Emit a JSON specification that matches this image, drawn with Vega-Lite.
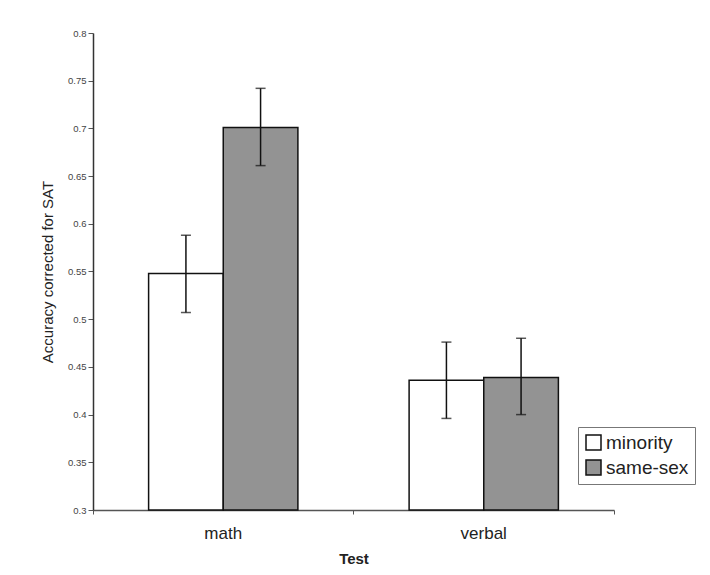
{
  "$schema": "https://vega.github.io/schema/vega-lite/v6.json",
  "width": 521,
  "height": 477,
  "autosize": {"type": "none"},
  "padding": {"left": 93, "top": 33, "right": 96, "bottom": 65},
  "background": "white",
  "config": {"font": "Liberation Sans", "view": {"stroke": null}},
  "data": {
    "values": [
      {"test": "math", "group": "minority", "acc": 0.548, "lo": 0.507, "hi": 0.588},
      {"test": "math", "group": "same-sex", "acc": 0.701, "lo": 0.661, "hi": 0.742},
      {"test": "verbal", "group": "minority", "acc": 0.436, "lo": 0.396, "hi": 0.476},
      {"test": "verbal", "group": "same-sex", "acc": 0.439, "lo": 0.400, "hi": 0.480}
    ]
  },
  "encoding": {
    "x": {
      "field": "test",
      "type": "nominal",
      "scale": {"paddingInner": 0, "paddingOuter": 0},
      "axis": {
        "title": "Test",
        "titleFontSize": 15,
        "titleFontWeight": "bold",
        "titleColor": "#222",
        "titlePadding": 10,
        "labelAngle": 0,
        "labelFontSize": 17,
        "labelColor": "#222",
        "labelPadding": 11,
        "domainColor": "#555",
        "domainWidth": 1.5,
        "tickColor": "#555",
        "tickSize": 4,
        "bandPosition": 1,
        "tickExtra": true
      }
    },
    "xOffset": {
      "field": "group",
      "scale": {"paddingInner": 0, "paddingOuter": 0.745}
    }
  },
  "layer": [
    {
      "mark": {"type": "bar", "stroke": "#111", "strokeWidth": 1.5},
      "encoding": {
        "y": {
          "field": "acc",
          "type": "quantitative",
          "scale": {"domain": [0.3, 0.8], "zero": false, "nice": false},
          "axis": {
            "title": "Accuracy corrected for SAT",
            "titleFontSize": 15,
            "titleFontWeight": "normal",
            "titleColor": "#222",
            "titlePadding": 12,
            "values": [0.3, 0.35, 0.4, 0.45, 0.5, 0.55, 0.6, 0.65, 0.7, 0.75, 0.8],
            "format": ".2~f",
            "labelFontSize": 9.5,
            "labelColor": "#444",
            "labelPadding": 2,
            "tickSize": 5,
            "tickColor": "#555",
            "domainColor": "#333",
            "domainWidth": 1.5,
            "grid": false
          }
        },
        "y2": {"datum": 0.3},
        "fill": {
          "field": "group",
          "type": "nominal",
          "scale": {"domain": ["minority", "same-sex"], "range": ["#ffffff", "#939393"]},
          "legend": {
            "title": null,
            "orient": "none",
            "legendX": 485,
            "legendY": 394,
            "symbolType": "square",
            "symbolSize": 225,
            "symbolStrokeColor": "#111",
            "symbolStrokeWidth": 1.5,
            "labelFontSize": 19,
            "labelColor": "#222",
            "labelOffset": 3,
            "strokeColor": "#777",
            "padding": 6,
            "rowPadding": 4
          }
        }
      }
    },
    {
      "mark": {"type": "rule", "color": "#111", "strokeWidth": 1.5},
      "encoding": {
        "y": {"field": "lo", "type": "quantitative"},
        "y2": {"field": "hi"}
      }
    },
    {
      "mark": {"type": "tick", "color": "#111", "size": 10, "thickness": 1.5},
      "encoding": {"y": {"field": "lo", "type": "quantitative"}}
    },
    {
      "mark": {"type": "tick", "color": "#111", "size": 10, "thickness": 1.5},
      "encoding": {"y": {"field": "hi", "type": "quantitative"}}
    }
  ]
}
